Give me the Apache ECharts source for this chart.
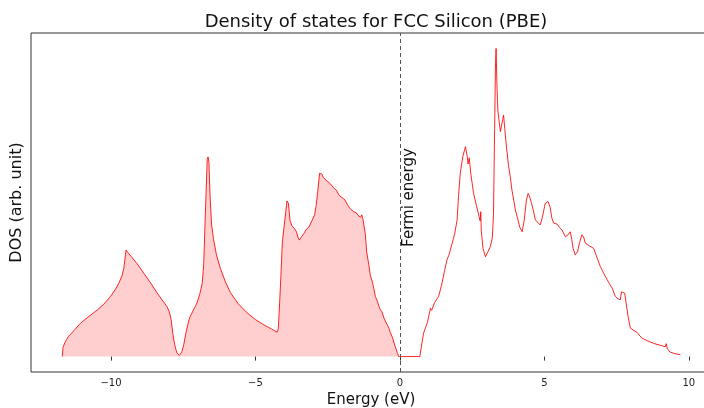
<!DOCTYPE html>
<html>
<head>
<meta charset="utf-8">
<script src="https://cdn.jsdelivr.net/npm/echarts@6/dist/echarts.min.js"></script>
<style>
  html, body { margin: 0; padding: 0; background: #fff; }
  #main { width: 704px; height: 408px; }
</style>
</head>
<body>
<div id="main"></div>
<script>
// energies (eV) and DOS (arb. unit)
var valenceE = [-11.69, -11.66, -11.60, -11.54, -11.48, -11.40, -11.25, -11.06, -10.80, -10.48, -10.25, -10.02, -9.85, -9.73, -9.62, -9.56, -9.50, -9.48, -9.42, -9.36, -9.30, -9.10, -8.86, -8.62, -8.40, -8.20, -8.06, -7.98, -7.92, -7.86, -7.80, -7.72, -7.63, -7.55, -7.48, -7.40, -7.30, -7.25, -7.10, -7.02, -6.92, -6.84, -6.79, -6.75, -6.71, -6.67, -6.64, -6.61, -6.57, -6.52, -6.45, -6.35, -6.21, -6.05, -5.87, -5.60, -5.29, -5.00, -4.71, -4.45, -4.25, -4.21, -4.18, -4.12, -4.07, -4.00, -3.95, -3.91, -3.86, -3.83, -3.80, -3.74, -3.65, -3.58, -3.52, -3.48, -3.40, -3.30, -3.25, -3.15, -3.05, -2.95, -2.90, -2.85, -2.78, -2.74, -2.70, -2.66, -2.62, -2.55, -2.50, -2.40, -2.30, -2.20, -2.10, -2.00, -1.90, -1.80, -1.70, -1.60, -1.50, -1.45, -1.40, -1.36, -1.32, -1.28, -1.24, -1.20, -1.15, -1.08, -1.02, -0.96, -0.90, -0.85, -0.78, -0.70, -0.62, -0.55, -0.50, -0.45, -0.38, -0.33, -0.25, -0.16, -0.08, -0.04, 0.0];
var valenceDos = [0, 0.03, 0.045, 0.055, 0.065, 0.072, 0.088, 0.108, 0.128, 0.151, 0.170, 0.195, 0.218, 0.238, 0.262, 0.285, 0.330, 0.346, 0.338, 0.336, 0.325, 0.302, 0.270, 0.238, 0.206, 0.180, 0.162, 0.145, 0.120, 0.075, 0.040, 0.012, 0.004, 0.015, 0.040, 0.080, 0.120, 0.132, 0.160, 0.175, 0.205, 0.240, 0.300, 0.420, 0.530, 0.640, 0.648, 0.630, 0.520, 0.430, 0.380, 0.330, 0.285, 0.245, 0.208, 0.172, 0.142, 0.120, 0.103, 0.090, 0.079, 0.090, 0.140, 0.260, 0.370, 0.430, 0.470, 0.505, 0.498, 0.500, 0.440, 0.425, 0.415, 0.405, 0.385, 0.378, 0.390, 0.402, 0.412, 0.420, 0.440, 0.460, 0.490, 0.530, 0.595, 0.590, 0.592, 0.582, 0.586, 0.572, 0.575, 0.560, 0.548, 0.540, 0.523, 0.516, 0.508, 0.490, 0.478, 0.470, 0.466, 0.458, 0.462, 0.452, 0.460, 0.446, 0.448, 0.400, 0.340, 0.300, 0.262, 0.245, 0.220, 0.195, 0.180, 0.156, 0.145, 0.125, 0.125, 0.105, 0.092, 0.078, 0.060, 0.032, 0.010, 0, 0];

var conductionE = [0.0, 0.69, 0.74, 0.82, 0.95, 1.06, 1.10, 1.20, 1.34, 1.45, 1.55, 1.63, 1.70, 1.81, 1.90, 1.98, 2.03, 2.09, 2.18, 2.27, 2.33, 2.36, 2.40, 2.46, 2.55, 2.65, 2.74, 2.78, 2.80, 2.82, 2.88, 2.96, 3.05, 3.13, 3.20, 3.24, 3.28, 3.31, 3.33, 3.36, 3.39, 3.44, 3.48, 3.54, 3.59, 3.63, 3.69, 3.76, 3.82, 3.88, 3.94, 4.00, 4.06, 4.15, 4.23, 4.30, 4.38, 4.44, 4.48, 4.55, 4.63, 4.69, 4.78, 4.86, 4.95, 5.03, 5.13, 5.20, 5.26, 5.32, 5.38, 5.44, 5.52, 5.61, 5.73, 5.82, 5.90, 5.95, 6.00, 6.07, 6.15, 6.22, 6.30, 6.36, 6.42, 6.55, 6.71, 6.82, 6.94, 7.10, 7.28, 7.35, 7.46, 7.55, 7.63, 7.67, 7.72, 7.78, 7.83, 7.90, 7.98, 8.10, 8.22, 8.28, 8.38, 8.55, 8.78, 9.00, 9.19, 9.22, 9.26, 9.35, 9.50, 9.71];
var conductionDos = [0, 0, 0.03, 0.076, 0.110, 0.157, 0.150, 0.175, 0.195, 0.235, 0.280, 0.314, 0.330, 0.368, 0.400, 0.443, 0.520, 0.595, 0.650, 0.681, 0.650, 0.625, 0.645, 0.590, 0.530, 0.490, 0.455, 0.440, 0.470, 0.405, 0.350, 0.324, 0.340, 0.357, 0.385, 0.460, 0.740, 0.950, 1.0, 0.880, 0.800, 0.760, 0.730, 0.760, 0.784, 0.740, 0.680, 0.620, 0.584, 0.540, 0.508, 0.475, 0.454, 0.420, 0.405, 0.440, 0.508, 0.530, 0.522, 0.500, 0.470, 0.443, 0.435, 0.427, 0.460, 0.497, 0.503, 0.485, 0.450, 0.433, 0.437, 0.430, 0.420, 0.411, 0.389, 0.395, 0.405, 0.380, 0.350, 0.330, 0.340, 0.370, 0.395, 0.388, 0.368, 0.360, 0.351, 0.322, 0.292, 0.262, 0.232, 0.222, 0.195, 0.188, 0.184, 0.210, 0.211, 0.206, 0.175, 0.130, 0.092, 0.085, 0.078, 0.070, 0.060, 0.052, 0.043, 0.037, 0.032, 0.042, 0.025, 0.015, 0.010, 0.006];

var xTicks = [-10, -5, 0, 5, 10];

function pairs(xs, ys) {
    return xs.map(function (x, i) { return [x, ys[i]]; });
}

var myChart = echarts.init(document.getElementById('main'), null, { renderer: 'canvas' });

var option = {
    animation: false,
    textStyle: { fontFamily: 'DejaVu Sans' },
    title: {
        text: 'Density of states for FCC Silicon (PBE)',
        left: 371,
        top: 8,
        textAlign: 'center',
        textStyle: { fontSize: 18, fontWeight: 'normal', color: '#111', fontFamily: 'DejaVu Sans' }
    },
    grid: {
        left: 31,
        right: -7,   // matplotlib frame runs past the crop on the right
        top: 33,
        bottom: 36,
        show: true,
        borderColor: '#333',
        borderWidth: 1,
        containLabel: false,
        outerBoundsMode: 'none'
    },
    xAxis: {
        type: 'value',
        min: -12.77,
        max: 10.77,
        name: 'Energy (eV)',
        nameLocation: 'middle',
        nameGap: 18,
        nameTextStyle: { fontSize: 15, color: '#111' },
        axisLine: { show: false },
        axisTick: { show: true, length: 4, customValues: xTicks, lineStyle: { color: '#333' } },
        axisLabel: {
            customValues: xTicks,
            fontSize: 10,
            color: '#222',
            margin: 6,
            formatter: function (v) { return String(v).replace('-', '\u2212'); }
        },
        splitLine: { show: false }
    },
    yAxis: {
        type: 'value',
        min: -0.05,
        max: 1.05,
        name: 'DOS (arb. unit)',
        nameLocation: 'middle',
        nameGap: 6,
        nameTextStyle: { fontSize: 16, color: '#111' },
        axisLine: { show: false },
        axisTick: { show: false },
        axisLabel: { show: false },
        splitLine: { show: false }
    },
    series: [
        {
            name: 'valence',
            type: 'line',
            data: pairs(valenceE, valenceDos),
            symbol: 'none',
            lineStyle: { color: 'rgba(255,0,0,0.85)', width: 1 },
            areaStyle: { color: 'rgba(255,0,0,0.27)', origin: 0 },
            markLine: {
                silent: true,
                symbol: 'none',
                data: [{ xAxis: 0 }],
                lineStyle: { color: '#555', type: [4, 3], width: 1 },
                label: {
                    show: true,
                    formatter: 'Fermi energy',
                    position: 'insideMiddleBottom',
                    fontSize: 15,
                    color: '#111',
                    distance: 2,
                    padding: [0, 0, 0, 10]
                }
            }
        },
        {
            name: 'conduction',
            type: 'line',
            data: pairs(conductionE, conductionDos),
            symbol: 'none',
            lineStyle: { color: 'rgba(255,0,0,0.85)', width: 1 }
        }
    ]
};

option && myChart.setOption(option);
</script>
</body>
</html>
